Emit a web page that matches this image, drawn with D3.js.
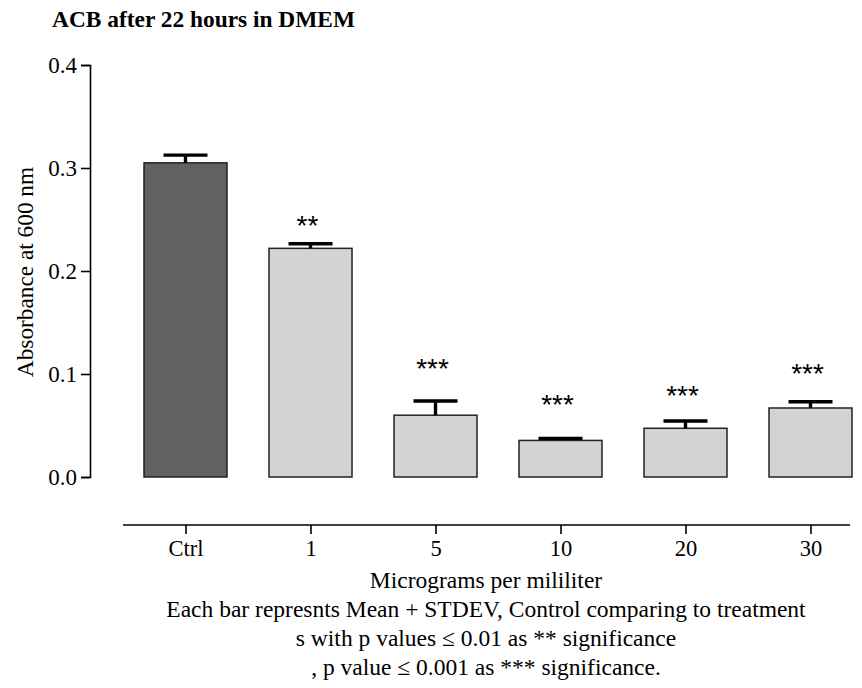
<!DOCTYPE html>
<html>
<head>
<meta charset="utf-8">
<script src="https://cdn.jsdelivr.net/npm/d3@7"></script>
<style>
  body { margin: 0; background: #fff; }
  svg text { font-family: "Liberation Serif", "Times New Roman", serif; fill: #000; }
</style>
</head>
<body>
<div id="chart"></div>
<script>
// data
const categories = ["Ctrl", "1", "5", "10", "20", "30"];
const means = [0.305, 0.222, 0.060, 0.0355, 0.0473, 0.067];
const stdevs = [0.0075, 0.0045, 0.0138, 0.002, 0.0071, 0.006];
const stars = ["", "**", "***", "***", "***", "***"];
const starLevel = [null, 0.2476, 0.1087, 0.0738, 0.0825, 0.1039];
const yTicks = [0.0, 0.1, 0.2, 0.3, 0.4];
const footLines = [
  "Micrograms per mililiter",
  "Each bar represnts Mean + STDEV, Control comparing to treatment",
  "s with p values \u2264 0.01 as ** significance",
  ", p value \u2264 0.001 as *** significance."
];

const W = 862, H = 688;
const svg = d3.select("#chart").append("svg")
    .attr("width", W)
    .attr("height", H);

const x = d3.scalePoint()
    .domain(categories)
    .range([185.5, 810.5]);

const y = d3.scaleLinear()
    .domain([0, 0.4])
    .range([477, 65]);

const barW = 83, capW = 44;
const rows = categories.map((c, i) => ({ c, m: means[i], sd: stdevs[i], star: stars[i], lvl: starLevel[i] }));

// title
svg.append("text")
    .attr("x", 52)
    .attr("y", 27)
    .style("font-weight", "bold")
    .style("font-size", "23.4px")
    .text("ACB after 22 hours in DMEM");

// y axis
const yAxis = svg.append("g")
    .attr("transform", "translate(90,0)")
    .call(d3.axisLeft(y).tickValues(yTicks).tickFormat(d3.format(".1f")).tickSizeOuter(0).tickSize(9).tickPadding(4));
yAxis.select(".domain").attr("stroke", "#000").attr("stroke-width", 1.6);
yAxis.selectAll(".tick line").attr("stroke", "#000").attr("stroke-width", 1.6);
yAxis.selectAll(".tick text")
    .style("font-family", "'Liberation Serif', serif")
    .style("font-size", "23px");

svg.append("text")
    .attr("transform", "rotate(-90)")
    .attr("x", -272)
    .attr("y", 33)
    .attr("text-anchor", "middle")
    .style("font-size", "23.3px")
    .text("Absorbance at 600 nm");

// bars
svg.append("g").selectAll("rect")
    .data(rows)
    .enter().append("rect")
    .attr("x", d => x(d.c) - barW / 2)
    .attr("y", d => y(d.m))
    .attr("width", barW)
    .attr("height", d => y(0) - y(d.m))
    .attr("fill", (d, i) => i === 0 ? "#616161" : "#d3d3d3")
    .attr("stroke", "#222")
    .attr("stroke-width", 1.5);

// error bars (mean + sd)
const err = svg.append("g").attr("stroke", "#000").attr("stroke-width", 3.4);
err.selectAll("line.stem")
    .data(rows)
    .enter().append("line")
    .attr("class", "stem")
    .attr("x1", d => x(d.c)).attr("x2", d => x(d.c))
    .attr("y1", d => y(d.m)).attr("y2", d => y(d.m + d.sd));
err.selectAll("line.cap")
    .data(rows)
    .enter().append("line")
    .attr("class", "cap")
    .attr("x1", d => x(d.c) - capW / 2).attr("x2", d => x(d.c) + capW / 2)
    .attr("y1", d => y(d.m + d.sd)).attr("y2", d => y(d.m + d.sd));

// significance stars
svg.append("g").selectAll("text")
    .data(rows.filter(d => d.star))
    .enter().append("text")
    .attr("x", d => x(d.c) - 3)
    .attr("y", d => y(d.lvl) + 13)
    .attr("text-anchor", "middle")
    .style("font-family", "'Liberation Sans', Arial, sans-serif")
    .style("font-size", "28px")
    .text(d => d.star);

// x axis
const xAxis = svg.append("g")
    .attr("transform", "translate(0,525)")
    .call(d3.axisBottom(x).tickSize(9).tickSizeOuter(0).tickPadding(6));
xAxis.select(".domain").remove();
xAxis.append("line")
    .attr("x1", 123).attr("x2", 850)
    .attr("stroke", "#000").attr("stroke-width", 1.6);
xAxis.selectAll(".tick line").attr("stroke", "#000").attr("stroke-width", 1.6);
xAxis.selectAll(".tick text")
    .style("font-family", "'Liberation Serif', serif")
    .style("font-size", "22.5px");

// footnote lines under the axis
svg.append("g").selectAll("text")
    .data(footLines)
    .enter().append("text")
    .attr("x", 486)
    .attr("y", (d, i) => 588 + i * 29)
    .attr("text-anchor", "middle")
    .style("font-size", "23.5px")
    .text(d => d);
</script>
</body>
</html>
